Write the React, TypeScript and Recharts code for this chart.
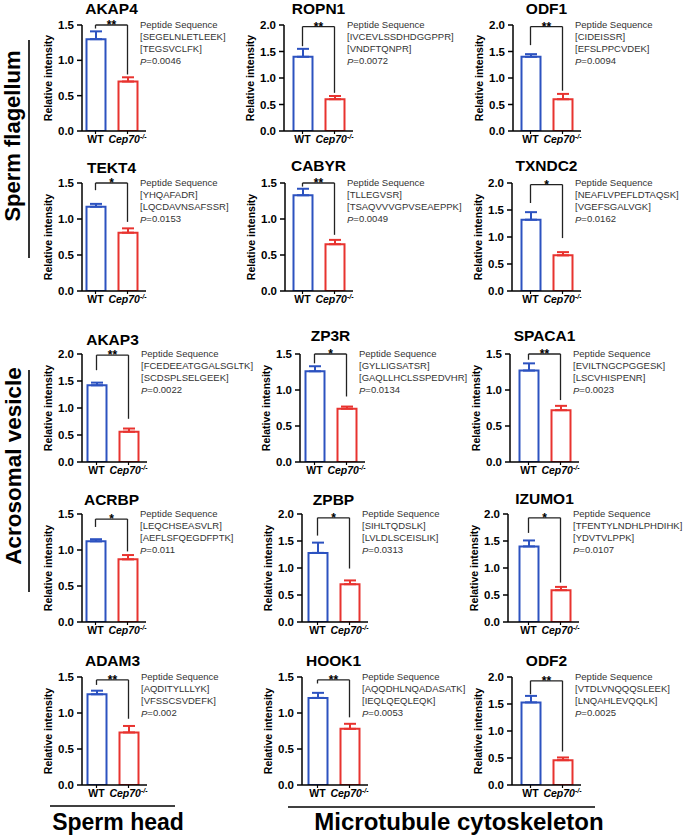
import React from "react";
import { Bar, BarChart, Cell, ErrorBar, ReferenceLine, XAxis, YAxis } from "recharts";

// ---- data ----
const proteins = ["AKAP4", "ROPN1", "ODF1", "TEKT4", "CABYR", "TXNDC2", "AKAP3", "ZP3R", "SPACA1", "ACRBP", "ZPBP", "IZUMO1", "ADAM3", "HOOK1", "ODF2"];
const groups = ["WT", "Cep70-/-"];
const wtMean = [1.3, 1.4, 1.4, 1.17, 1.33, 1.32, 1.42, 1.26, 1.27, 1.12, 1.28, 1.4, 1.26, 1.21, 1.53];
const wtSem = [0.11, 0.15, 0.05, 0.04, 0.09, 0.14, 0.05, 0.07, 0.1, 0.03, 0.19, 0.11, 0.05, 0.07, 0.12];
const koMean = [0.7, 0.6, 0.6, 0.81, 0.65, 0.66, 0.56, 0.74, 0.72, 0.87, 0.7, 0.59, 0.73, 0.78, 0.46];
const koSem = [0.06, 0.06, 0.1, 0.06, 0.06, 0.06, 0.06, 0.03, 0.06, 0.06, 0.07, 0.06, 0.09, 0.07, 0.05];
const yMax = [1.5, 2, 2, 1.5, 1.5, 2, 2, 1.5, 1.5, 1.5, 2, 2, 1.5, 1.5, 2];
const stars = ["**", "**", "**", "*", "**", "*", "**", "*", "**", "*", "*", "*", "**", "**", "**"];
const pValues = ["0.0046", "0.0072", "0.0094", "0.0153", "0.0049", "0.0162", "0.0022", "0.0134", "0.0023", "0.011", "0.0313", "0.0107", "0.002", "0.0053", "0.0025"];
const peptide1 = ["SEGELNLETLEEK", "IVCEVLSSDHDGGPPR", "CIDEISSR", "YHQAFADR", "TLLEGVSR", "NEAFLVPEFLDTAQSK", "FCEDEEATGGALSGLTK", "GYLLIGSATSR", "EVILTNGCPGGESK", "LEQCHSEASVLR", "SIHLTQDSLK", "TFENTYLNDHLPHDIHK", "AQDITYLLLYK", "AQQDHLNQADASATK", "VTDLVNQQQSLEEK"];
const peptide2 = ["TEGSVCLFK", "VNDFTQNPR", "EFSLPPCVDEK", "LQCDAVNSAFSSR", "TSAQVVVGPVSEAEPPK", "VGEFSGALVGK", "SCDSPLSELGEEK", "GAQLLHCLSSPEDVHR", "LSCVHISPENR", "AEFLSFQEGDFPTK", "LVLDLSCEISLIK", "YDVTVLPPK", "VFSSCSVDEFK", "IEQLQEQLEQK", "LNQAHLEVQQLK"];
// significance bracket: bar height, and where each leg stops
const bracketTop = [1.5, 1.97, 1.97, 1.5, 1.5, 1.97, 1.98, 1.5, 1.5, 1.43, 1.93, 1.93, 1.46, 1.46, 1.93];
const bracketWt = [1.45, 1.6, 1.62, 1.4, 1.45, 1.63, 1.7, 1.37, 1.42, 1.32, 1.6, 1.65, 1.39, 1.41, 1.68];
const bracketKo = [0.8, 0.72, 0.76, 0.96, 0.78, 0.98, 0.8, 0.91, 0.86, 0.98, 0.99, 0.73, 0.92, 0.94, 0.62];
const ticks15 = [0, 0.5, 1, 1.5];
const ticks20 = [0, 0.5, 1, 1.5, 2];

// ---- layout (px on the page) ----
const wtLeft = [85, 292, 520, 85, 292, 520, 86, 304, 518, 85, 307, 518, 86, 307, 520];
const gap = [3, 8, 7, 3, 7, 8, 4, 4, 8, 3, 5, 10, 4, 5, 8];
const titleY = [8.5, 8.5, 8.5, 167, 165, 165, 339, 335, 335, 499, 499, 498, 660, 660, 660];
const rowTop = [25, 183, 354, 514, 677];
const rowZero = [131, 291, 462, 622, 785];

const BLUE = "#2c52c0";
const RED = "#e8332f";
const YW = 48;
const MT = 14;
const MR = 4;
const XH = 22;

const XTick = (props: any) => {
  const { x, y, payload } = props;
  const v = String(payload.value);
  return (
    <text x={x} y={y} dy={7.5} textAnchor="middle" fontSize={10.5} fontWeight="bold" fill="#000">
      {v === "WT" ? (
        "WT"
      ) : (
        <>
          <tspan fontStyle="italic">Cep70</tspan>
          <tspan fontSize={7} dy={-4} fontStyle="italic">-/-</tspan>
        </>
      )}
    </text>
  );
};

function Panel({ i }: { i: number }) {
  const row = Math.floor(i / 3);
  const top = rowTop[row];
  const plotH = rowZero[row] - top;
  const axisX = wtLeft[i] - gap[i];
  const plotW = gap[i] + 61;
  const data = [
    { name: groups[0], value: wtMean[i], wtErr: [0, wtSem[i]] },
    { name: groups[1], value: koMean[i], koErr: [0, koSem[i]] },
  ];
  const lx = YW - 34;
  const ly = MT + plotH / 2;

  return (
    <div style={{ position: "absolute", left: axisX - YW, top: top - MT }}>
      <BarChart
        width={YW + plotW + MR}
        height={MT + plotH + XH}
        data={data}
        margin={{ top: MT, right: MR, bottom: 0, left: 0 }}
        barSize={19}
      >
        <XAxis
          dataKey="name"
          height={XH}
          interval={0}
          padding={{ left: gap[i] - 5.5, right: 2.5 }}
          axisLine={{ stroke: "#000", strokeWidth: 1.5 }}
          tickLine={{ stroke: "#000", strokeWidth: 1.2 }}
          tickSize={3}
          tickMargin={1}
          tick={<XTick />}
        />
        <YAxis
          width={YW}
          domain={[0, yMax[i]]}
          ticks={yMax[i] === 2 ? ticks20 : ticks15}
          allowDataOverflow
          tickFormatter={(v: number) => v.toFixed(1)}
          axisLine={{ stroke: "#000", strokeWidth: 1.5 }}
          tickLine={{ stroke: "#000", strokeWidth: 1.5 }}
          tickSize={5}
          tickMargin={3}
          tick={{ fill: "#000", fontSize: 11.5, fontWeight: "bold" }}
          label={() => (
            <text
              x={lx}
              y={ly}
              transform={`rotate(-90 ${lx} ${ly})`}
              textAnchor="middle"
              dominantBaseline="central"
              fontSize={10.5}
              fontWeight="bold"
              fill="#000"
            >
              Relative intensity
            </text>
          )}
        />
        <Bar dataKey="value" fill="#fff" strokeWidth={2} isAnimationActive={false}>
          <Cell stroke={BLUE} />
          <Cell stroke={RED} />
          <ErrorBar dataKey="wtErr" width={6} stroke={BLUE} strokeWidth={2} isAnimationActive={false} />
          <ErrorBar dataKey="koErr" width={6} stroke={RED} strokeWidth={2} isAnimationActive={false} />
        </Bar>
        <ReferenceLine
          segment={[{ x: groups[0], y: bracketTop[i] }, { x: groups[1], y: bracketTop[i] }]}
          stroke="#222"
          strokeWidth={1.3}
          ifOverflow="visible"
          label={{ value: stars[i], position: "center", fill: "#000", fontSize: 12, fontWeight: "bold" }}
        />
        <ReferenceLine
          segment={[{ x: groups[0], y: bracketTop[i] }, { x: groups[0], y: bracketWt[i] }]}
          stroke="#222"
          strokeWidth={1.3}
          ifOverflow="visible"
        />
        <ReferenceLine
          segment={[{ x: groups[1], y: bracketTop[i] }, { x: groups[1], y: bracketKo[i] }]}
          stroke="#222"
          strokeWidth={1.3}
          ifOverflow="visible"
        />
      </BarChart>
    </div>
  );
}

export default function App() {
  return (
    <div
      style={{
        position: "absolute",
        left: 0,
        top: 0,
        width: 685,
        height: 836,
        background: "#fff",
        fontFamily: '"Liberation Sans", Arial, sans-serif',
        overflow: "hidden",
      }}
    >
      {proteins.map((p, i) => (
        <Panel key={p} i={i} />
      ))}
      <svg width={685} height={836} style={{ position: "absolute", left: 0, top: 0, pointerEvents: "none" }}>
        {proteins.map((p, i) => {
          const row = Math.floor(i / 3);
          const tx = wtLeft[i] + 55;
          const ty = rowTop[row] - 1;
          return (
            <g key={p}>
              <text x={wtLeft[i] + 26.5} y={titleY[i]} textAnchor="middle" dominantBaseline="central" fontSize={15.5} fontWeight="bold" fill="#000">
                {p}
              </text>
              <g fontSize={9.5} fill="#333">
                <text x={tx} y={ty} dominantBaseline="central">Peptide Sequence</text>
                <text x={tx} y={ty + 12.3} dominantBaseline="central">[{peptide1[i]}]</text>
                <text x={tx} y={ty + 24.6} dominantBaseline="central">[{peptide2[i]}]</text>
                <text x={tx} y={ty + 36.9} dominantBaseline="central">
                  <tspan fontStyle="italic">P</tspan>={pValues[i]}
                </text>
              </g>
            </g>
          );
        })}
        <text x={12} y={136} transform="rotate(-90 12 136)" textAnchor="middle" dominantBaseline="central" fontSize={22} fontWeight="bold">
          Sperm flagellum
        </text>
        <line x1={29} y1={40} x2={29} y2={258} stroke="#000" strokeWidth={1.6} />
        <text x={13} y={466} transform="rotate(-90 13 466)" textAnchor="middle" dominantBaseline="central" fontSize={22.5} fontWeight="bold">
          Acrosomal vesicle
        </text>
        <line x1={29} y1={370} x2={29} y2={592} stroke="#000" strokeWidth={1.6} />
        <line x1={50} y1={806} x2={175} y2={806} stroke="#000" strokeWidth={1.6} />
        <text x={118} y={830} textAnchor="middle" fontSize={23} fontWeight="bold">
          Sperm head
        </text>
        <line x1={288} y1={807} x2={595} y2={807} stroke="#000" strokeWidth={1.6} />
        <text x={459} y={830} textAnchor="middle" fontSize={24} fontWeight="bold">
          Microtubule cytoskeleton
        </text>
      </svg>
    </div>
  );
}
